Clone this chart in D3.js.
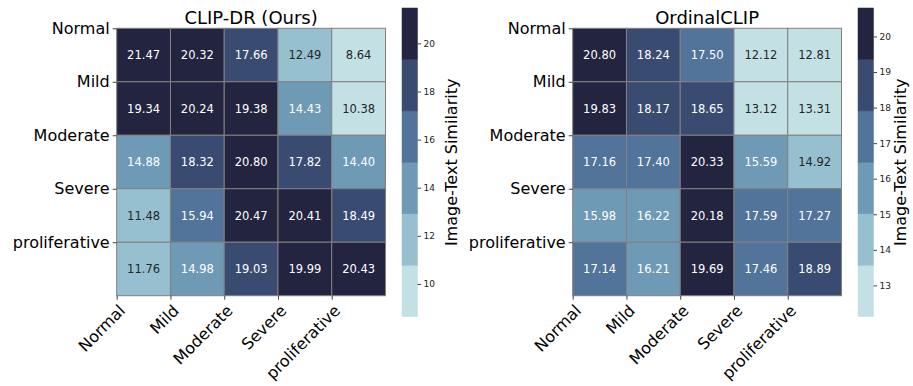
<!DOCTYPE html>
<html>
<head>
  <meta charset="utf-8">
  <title>Image-Text Similarity heatmaps</title>
  <script src="https://d3js.org/d3.v7.min.js"></script>
  <style>
    body { margin: 0; background: #fff; }
    text { font-family: "DejaVu Sans", sans-serif; }
  </style>
</head>
<body>
<div id="chart"></div>
<script type="text/javascript">
  // data
  let grades = ['Normal', 'Mild', 'Moderate', 'Severe', 'proliferative'];

  let clipDr = [
    [21.47, 20.32, 17.66, 12.49, 8.64],
    [19.34, 20.24, 19.38, 14.43, 10.38],
    [14.88, 18.32, 20.80, 17.82, 14.40],
    [11.48, 15.94, 20.47, 20.41, 18.49],
    [11.76, 14.98, 19.03, 19.99, 20.43]
  ];
  let ordinalClip = [
    [20.80, 18.24, 17.50, 12.12, 12.81],
    [19.83, 18.17, 18.65, 13.12, 13.31],
    [17.16, 17.40, 20.33, 15.59, 14.92],
    [15.98, 16.22, 20.18, 17.59, 17.27],
    [17.14, 16.21, 19.69, 17.46, 18.89]
  ];
  let clipDrTicks = [10, 12, 14, 16, 18, 20];
  let ordinalTicks = [13, 14, 15, 16, 17, 18, 19, 20];

  // 6 step palette, light -> dark
  let palette = ['#c3e1e5', '#96c0d0', '#6f9ab6', '#52739a', '#3a4b72', '#222440'];

  let W = 913, H = 386;
  let svg = d3.select('#chart')
    .append('svg')
      .attr('width', W)
      .attr('height', H);

  function heatmap(opts) {
    let g = svg.append('g');
    let vals = opts.values;
    let flat = vals.flat();
    let vmin = d3.min(flat), vmax = d3.max(flat);

    let color = d3.scaleQuantize().domain([vmin, vmax]).range(palette);

    let x = d3.scaleLinear().domain([0, 5]).range([opts.left, opts.left + 268.8]);
    let y = d3.scaleLinear().domain([0, 5]).range([28.3, 295.7]);

    // cells
    let cells = [];
    vals.forEach((row, i) => row.forEach((v, j) => cells.push({i, j, v})));

    g.selectAll('rect.cell')
      .data(cells)
      .enter()
      .append('rect')
        .attr('class', 'cell')
        .attr('x', d => x(d.j))
        .attr('y', d => y(d.i))
        .attr('width', x(1) - x(0))
        .attr('height', y(1) - y(0))
        .attr('fill', d => color(d.v))
        .attr('stroke', '#808080')
        .attr('stroke-width', 1);

    g.selectAll('text.annot')
      .data(cells)
      .enter()
      .append('text')
        .attr('class', 'annot')
        .attr('x', d => x(d.j + 0.5))
        .attr('y', d => y(d.i + 0.5))
        .attr('dy', '0.36em')
        .attr('text-anchor', 'middle')
        .attr('font-size', '11.5px')
        .attr('fill', d => palette.indexOf(color(d.v)) >= 2 ? '#ffffff' : '#262626')
        .text(d => d.v.toFixed(2));

    // axes: ticks sit on the cell edges
    let xAxis = d3.axisBottom(x).tickValues(d3.range(5)).tickSize(4).tickFormat(i => grades[i]);
    let yAxis = d3.axisLeft(y).tickValues(d3.range(5)).tickSize(4).tickFormat(i => grades[i]);

    let gx = g.append('g')
      .attr('transform', `translate(0,${y(5)})`)
      .call(xAxis);
    gx.select('.domain').remove();
    gx.selectAll('.tick line').attr('stroke', '#444');
    gx.selectAll('.tick text')
      .attr('font-size', '16px')
      .attr('font-family', '"DejaVu Sans", sans-serif')
      .attr('fill', '#000')
      .attr('text-anchor', 'end')
      .attr('y', 0)
      .attr('dy', 0)
      .attr('transform', 'translate(9,16) rotate(-45)');

    let gy = g.append('g')
      .attr('transform', `translate(${x(0)},0)`)
      .call(yAxis);
    gy.select('.domain').remove();
    gy.selectAll('.tick line').attr('stroke', '#444');
    gy.selectAll('.tick text')
      .attr('font-size', '16px')
      .attr('font-family', '"DejaVu Sans", sans-serif')
      .attr('fill', '#000')
      .attr('x', -7);

    // title
    g.append('text')
      .attr('x', x(2.5))
      .attr('y', 23.5)
      .attr('text-anchor', 'middle')
      .attr('font-size', '18px')
      .text(opts.title);

    // colorbar
    let cbX = opts.cbLeft, cbW = 15.5;
    let cy = d3.scaleLinear().domain([vmin, vmax]).range([316.7, 8]);
    let cb = svg.append('g');
    cb.selectAll('rect')
      .data(palette)
      .enter()
      .append('rect')
        .attr('x', cbX)
        .attr('width', cbW)
        .attr('y', c => cy(color.invertExtent(c)[1]))
        .attr('height', c => cy(color.invertExtent(c)[0]) - cy(color.invertExtent(c)[1]))
        .attr('fill', c => c)
        .attr('stroke', c => c)
        .attr('stroke-width', 0.5);

    let cAxis = d3.axisRight(cy).tickValues(opts.ticks).tickSize(3.5).tickPadding(2.5);
    let gc = cb.append('g')
      .attr('transform', `translate(${cbX + cbW},0)`)
      .call(cAxis);
    gc.select('.domain').remove();
    gc.selectAll('.tick line').attr('stroke', '#444');
    gc.selectAll('.tick text')
      .attr('font-size', '9px')
      .attr('font-family', '"DejaVu Sans", sans-serif')
      .attr('fill', '#222');

    cb.append('text')
      .attr('transform', `translate(${opts.labelX},${(cy(vmin) + cy(vmax)) / 2}) rotate(-90)`)
      .attr('text-anchor', 'middle')
      .attr('font-size', '16px')
      .text('Image-Text Similarity');
  }

  heatmap({values: clipDr, title: 'CLIP-DR (Ours)', left: 116.7, cbLeft: 402, ticks: clipDrTicks, labelX: 457});
  heatmap({values: ordinalClip, title: 'OrdinalCLIP', left: 572.7, cbLeft: 858, ticks: ordinalTicks, labelX: 906});
</script>
</body>
</html>
